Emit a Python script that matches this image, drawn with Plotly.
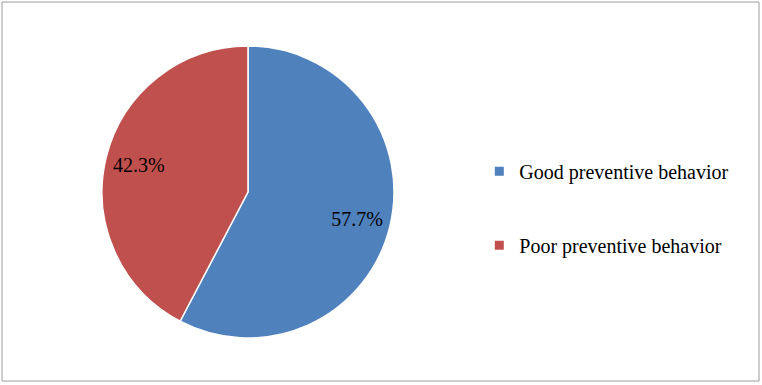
import plotly.graph_objects as go

categories = ["Good preventive behavior", "Poor preventive behavior"]
shares = [57.7, 42.3]
colors = ["#4F81BD", "#C0504D"]

domain = dict(x=[100 / 762, 396 / 762], y=[1 - 338 / 385, 1 - 46 / 385])

fig = go.Figure()

# the pie itself
fig.add_trace(go.Pie(
    labels=categories,
    values=shares,
    sort=False,
    direction="clockwise",
    rotation=0,
    marker=dict(colors=colors, line=dict(color="white", width=1.5)),
    textinfo="none",
    domain=domain,
    showlegend=False,
    hovertemplate="%{label}: %{value:.1f}%<extra></extra>",
))

# transparent ring on top, only to put the % labels out near the rim
fig.add_trace(go.Pie(
    labels=categories,
    values=shares,
    sort=False,
    direction="clockwise",
    rotation=0,
    hole=0.54,
    marker=dict(colors=["rgba(0,0,0,0)"] * 2, line=dict(width=0)),
    texttemplate="%{value:.1f}%",
    textposition="inside",
    insidetextorientation="horizontal",
    textfont=dict(family="Liberation Serif", size=20, color="black"),
    domain=domain,
    showlegend=False,
    hoverinfo="skip",
))

# legend entries
for i, (name, col) in enumerate(zip(categories, colors)):
    fig.add_trace(go.Scatter(
        x=[None], y=[None], mode="markers", name=name,
        marker=dict(symbol="square", size=9, color=col),
        legendgroup=f"g{i}",
    ))

fig.update_layout(
    width=762,
    height=385,
    margin=dict(l=0, r=0, t=0, b=0),
    paper_bgcolor="white",
    plot_bgcolor="white",
    font=dict(family="Liberation Serif", size=20, color="black"),
    xaxis=dict(visible=False),
    yaxis=dict(visible=False),
    legend=dict(
        x=0.629,
        y=0.606,
        xanchor="left",
        yanchor="top",
        tracegroupgap=45,
        itemwidth=30,
        font=dict(size=20),
    ),
    shapes=[
        dict(type="rect", xref="paper", yref="paper",
             x0=2 / 762, y0=1 - 381 / 385, x1=759 / 762, y1=1 - 2 / 385,
             line=dict(color="#9C9C9C", width=1)),
    ],
)

fig.write_html("out.html", config={"displayModeBar": False},
               post_script="document.body.style.margin='0';")
